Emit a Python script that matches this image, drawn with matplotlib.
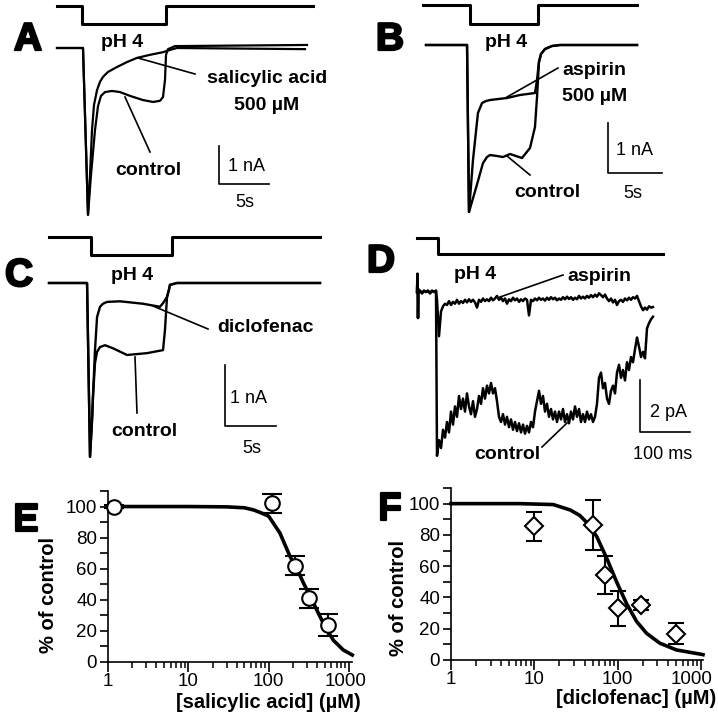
import matplotlib
matplotlib.use('Agg')
import matplotlib.pyplot as plt
import matplotlib.patheffects as pe
from matplotlib.ticker import LogLocator, NullFormatter
from matplotlib.transforms import ScaledTranslation

plt.rcParams['font.family'] = ['Liberation Sans', 'DejaVu Sans']

W, H = 718, 720

# ---- A: salicylic acid 500 uM, time (s) / current (nA) ----
a_ctrl_t = [0, 2.6, 3.1, 3.4, 3.8, 4.1, 4.4, 4.8, 5.5, 6.3, 7.3, 8.6, 9.6, 10.3, 10.6, 10.8, 10.9, 11.1, 11.8, 25.0]
a_ctrl_i = [0, 0, -4.39, -3.34, -2.16, -1.53, -1.26, -1.16, -1.13, -1.16, -1.26, -1.37, -1.42, -1.39, -1.29, -0.84, -0.18, -0.03, 0.05, 0.08]
a_drug_t = [0, 2.6, 3.1, 3.3, 3.5, 3.7, 4.0, 4.3, 4.6, 5.1, 6.0, 7.0, 8.0, 9.3, 10.6, 11.3, 12.0, 24.8]
a_drug_i = [0, 0, -4.39, -3.34, -2.16, -1.50, -1.11, -0.89, -0.76, -0.63, -0.50, -0.37, -0.26, -0.18, -0.11, -0.05, 0.0, -0.03]
a_pulse = (0, 2.5, 10.9, 25.6)

# ---- B: aspirin 500 uM ----
b_ctrl_t = [0, 3.80, 3.98, 4.63, 5.28, 5.65, 5.93, 6.57, 7.13, 7.78, 8.33, 8.89, 9.63, 10.09, 10.28, 10.46, 10.65, 11.02, 11.67, 12.41, 19.54]
b_ctrl_i = [0, 0, -3.34, -2.86, -2.36, -2.24, -2.2, -2.22, -2.24, -2.18, -2.22, -2.26, -2.06, -1.64, -1.04, -0.34, -0.18, -0.08, -0.02, 0, 0]
b_drug_t = [0, 3.80, 3.98, 4.35, 4.81, 5.19, 5.56, 5.93, 7.5, 8.7, 10.09, 10.28, 10.46, 10.65, 11.02, 11.67, 12.41, 19.54]
b_drug_i = [0, 0, -3.34, -2.3, -1.36, -1.16, -1.12, -1.10, -1.06, -1.0, -0.96, -0.70, -0.34, -0.18, -0.08, -0.02, 0, 0]
b_pulse = (-0.28, 4.07, 10.37, 19.54)

# ---- C: diclofenac ----
c_ctrl_t = [0, 3.73, 4.02, 4.22, 4.31, 4.51, 4.71, 5.0, 5.49, 6.27, 7.65, 9.61, 11.18, 11.37, 11.57, 11.76, 11.86, 12.55, 26.57]
c_ctrl_i = [0, 0, -2.85, -2.25, -1.87, -1.31, -1.13, -1.05, -1.02, -1.07, -1.18, -1.15, -1.10, -0.77, -0.23, -0.11, -0.03, 0, 0]
c_drug_t = [0, 3.73, 4.02, 4.22, 4.31, 4.51, 4.71, 5.0, 5.29, 5.69, 6.96, 9.22, 10.88, 11.18, 11.57, 11.76, 11.86, 12.55, 26.57]
c_drug_i = [0, 0, -2.85, -2.25, -1.87, -1.1, -0.56, -0.39, -0.34, -0.31, -0.30, -0.34, -0.39, -0.33, -0.23, -0.11, -0.03, 0, 0]
c_pulse = (0, 4.12, 12.06, 26.57)

# ---- D: time (ms) / current (pA) ----
d_pre_t = [0, 1, 2, 3, 4, 6, 10, 14, 18, 22, 26, 30, 34, 38]
d_pre_i = [0, 0.7, -1.0, 0.1, 0, 0.05, -0.05, 0.05, 0, 0.05, -0.05, 0.05, 0, 0.05]
d_t = [40, 44, 48, 52, 56, 60, 64, 68, 72, 76, 80, 84, 88, 92, 96, 100, 104, 108, 112, 116,
       120, 124, 128, 132, 136, 140, 144, 148, 152, 156, 160, 164, 168, 172, 176, 180, 184, 188, 192, 196,
       200, 204, 208, 212, 216, 220, 224, 228, 232, 236, 240, 244, 248, 252, 256, 260, 264, 268, 272, 276,
       280, 284, 288, 292, 296, 300, 304, 308, 312, 316, 320, 324, 328, 332, 336, 340, 344, 348, 352, 356,
       360, 364, 368, 372, 376, 380, 384, 388, 392, 396, 400, 404, 408, 412, 416, 420, 424, 428, 432, 436,
       440, 444, 448, 452, 456, 460, 464, 468, 472]
d_ctrl = [-6.3, -5.7, -6.0, -5.3, -5.6, -5.0, -5.4, -4.6, -5.1, -4.4, -4.8, -4.0, -4.5, -4.1, -4.6, -3.9, -4.4, -4.7, -4.2, -4.8,
          -4.5, -4.0, -4.3, -3.7, -4.1, -3.6, -3.9, -3.5, -3.9, -3.7, -4.2, -4.8, -5.0, -4.7, -5.1, -4.8, -5.2, -4.9, -5.3, -5.0,
          -5.35, -5.05, -5.4, -5.1, -5.45, -5.15, -5.4, -5.0, -5.2, -4.6, -4.2, -3.8, -4.3, -4.0, -4.6, -4.3, -4.8, -4.5, -4.9, -4.6,
          -5.0, -4.6, -4.9, -4.5, -5.0, -4.7, -5.05, -4.6, -4.9, -4.4, -4.8, -4.5, -5.0, -4.7, -5.0, -4.6, -4.9, -4.7, -5.0, -4.8,
          -4.3, -3.3, -3.1, -3.7, -3.5, -4.1, -4.3, -3.8, -3.6, -3.9, -3.1, -2.8, -3.3, -3.0, -3.4, -2.7, -3.0, -2.5, -2.7, -2.2,
          -1.75, -2.1, -2.5, -2.3, -2.55, -1.4, -1.2, -1.05, -0.95]
d_asp = [-0.3, -1.7, -0.75, -0.55, -0.45, -0.5, -0.35, -0.5, -0.38, -0.45, -0.3, -0.45, -0.35, -0.42, -0.3, -0.4, -0.28, -0.38, -0.3, -0.4,
         -0.6, -0.3, -0.38, -0.25, -0.35, -0.28, -0.35, -0.22, -0.32, -0.25, -0.15, -0.3, -0.22, -0.35, -0.25, -0.45, -0.28, -0.35, -0.22, -0.32,
         -0.25, -0.38, -0.28, -0.35, -0.25, -0.3, -0.9, -0.3, -0.35, -0.25, -0.32, -0.22, -0.3, -0.25, -0.33, -0.22, -0.3, -0.2, -0.28, -0.22,
         -0.32, -0.25, -0.3, -0.2, -0.28, -0.18, -0.27, -0.2, -0.3, -0.22, -0.28, -0.15, -0.25, -0.18, -0.25, -0.15, -0.22, -0.12, -0.2, -0.1,
         -0.18, -0.05, -0.12, -0.2, -0.1, -0.25, -0.35, -0.25, -0.4, -0.3, -0.5, -0.35, -0.3, -0.38, -0.25, -0.32, -0.22, -0.3, -0.2, -0.25,
         -0.15, -0.35, -0.55, -0.7, -0.6, -0.68, -0.55, -0.6, -0.58]
d_pulse = (0, 42, 492)

# ---- E: salicylic acid dose response ----
e_conc = [1.2, 110, 210, 320, 550]
e_pct = [100, 102, 62, 41, 24]
e_err = [1, 6, 6, 6, 7]
e_fit_x = [1, 10, 30, 50, 65, 80, 100, 138, 184, 230, 270, 360, 478, 638, 850, 1100]
e_fit_y = [100, 100, 99.8, 99.2, 97.8, 96, 93.8, 83, 68, 59, 51, 38, 25, 14, 7.7, 4.5]

# ---- F: diclofenac dose response ----
f_conc = [10, 50, 71, 102, 193, 505]
f_pct = [85.5, 86.5, 54.5, 33, 35, 16.7]
f_err = [9.4, 16, 12, 11, 3.3, 6.7]
f_fit_x = [1, 6.7, 16.9, 26.8, 35, 42.5, 56, 74, 97, 128, 169, 223, 322, 510, 1019, 1057]
f_fit_y = [100, 100, 99.4, 96, 92.5, 88, 79, 65, 50, 36, 24.6, 17, 10.7, 6.4, 3.6, 3.4]

fig = plt.figure(figsize=(W / 100, H / 100), dpi=100)


def trace_ax(x0, y0, sx, sy):
    # full-figure transparent axes, origin at pixel (x0, y0), sx/sy pixels per unit
    ax = fig.add_axes([0, 0, 1, 1])
    ax.set_xlim(-x0 / sx, (W - x0) / sx)
    ax.set_ylim((y0 - H) / sy, y0 / sy)
    ax.axis('off')
    ax.patch.set_visible(False)
    return ax


def pulse(ax, p, hi, lo):
    if len(p) == 4:
        ax.plot([p[0], p[1], p[1], p[2], p[2], p[3]], [hi, hi, lo, lo, hi, hi], color='k', lw=2.2)
    else:
        ax.plot([p[0], p[1], p[1], p[2]], [hi, hi, lo, lo], color='k', lw=2.2)


def scalebar(ax, t, i, dt, di):
    ax.plot([t, t, t + dt], [i, i - di, i - di], color='k', lw=1.2)


# A
ax = trace_ax(57, 48, 10, 38)
pulse(ax, a_pulse, 1.105, 0.632)
ax.plot(a_ctrl_t, a_ctrl_i, color='k', lw=1.6)
ax.plot(a_drug_t, a_drug_i, color='k', lw=1.6)
scalebar(ax, 16.2, -2.58, 5, 1)

# B
ax = trace_ax(426, 45, 10.8, 50)
pulse(ax, b_pulse, 0.8, 0.42)
ax.plot(b_ctrl_t, b_ctrl_i, color='k', lw=1.7)
ax.plot(b_drug_t, b_drug_i, color='k', lw=1.7)
scalebar(ax, 16.85, -1.56, 5, 1)

# C
ax = trace_ax(49, 283, 10.2, 61)
pulse(ax, c_pulse, 0.754, 0.459)
ax.plot(c_ctrl_t, c_ctrl_i, color='k', lw=1.7)
ax.plot(c_drug_t, c_drug_i, color='k', lw=1.7)
scalebar(ax, 17.25, -1.34, 5, 1)

# D
ax = trace_ax(417, 292, 0.5, 26)
pulse(ax, d_pulse, 2.08, 1.46)
ax.plot(d_pre_t + d_t, d_pre_i + d_ctrl, color='k', lw=1.8)
ax.plot(d_pre_t + d_t, d_pre_i + d_asp, color='k', lw=1.8)
scalebar(ax, 446, -3.38, 100, 2)


def dose_ax(left, right, bottom, top, xmax):
    ax = fig.add_axes([left / W, 1 - bottom / H, (right - left) / W, (bottom - top) / H])
    ax.set_xscale('log')
    ax.set_xlim(1, xmax)
    ax.set_ylim(0, 110)
    for s in ['top', 'right']:
        ax.spines[s].set_visible(False)
    for s in ['left', 'bottom']:
        ax.spines[s].set_linewidth(1.2)
    ax.set_yticks([0, 20, 40, 60, 80, 100])
    ax.set_yticks([10, 30, 50, 70, 90, 110], minor=True)
    ax.set_xticks([1, 10, 100, 1000])
    ax.set_xticklabels(['1', '10', '100', '1000'])
    ax.xaxis.set_minor_locator(LogLocator(base=10, subs=range(2, 10)))
    ax.xaxis.set_minor_formatter(NullFormatter())
    ax.tick_params(axis='y', which='both', direction='out', length=5.8, width=1.2, labelsize=13.5, pad=2)
    ax.tick_params(axis='x', which='major', direction='out', length=7, width=1.2, labelsize=13.5, pad=1)
    ax.tick_params(axis='x', which='minor', direction='out', length=4.5, width=1.1)
    ax.patch.set_visible(False)
    return ax


# E
ax = dose_ax(108, 352, 662, 491, 1090)
ax.plot(e_fit_x, e_fit_y, color='k', lw=2.6, zorder=2, clip_on=False)
ax.errorbar(e_conc, e_pct, yerr=e_err, fmt='o', ms=10.5, mfc='white', mec='k', mew=1.5,
            ecolor='k', elinewidth=1.5, capsize=7.5, capthick=1.5, zorder=3, clip_on=False)
lab = ax.get_xticklabels()[-1]
lab.set_transform(lab.get_transform() + ScaledTranslation(-3 / 100, 0, fig.dpi_scale_trans))

# F
ax = dose_ax(451, 703, 660, 488, 1057)
ax.plot(f_fit_x, f_fit_y, color='k', lw=2.6, zorder=2, clip_on=False)
ax.errorbar(f_conc, f_pct, yerr=f_err, fmt='D', ms=9.5, mfc='white', mec='k', mew=1.5,
            ecolor='k', elinewidth=1.5, capsize=6, capthick=1.5, zorder=3, clip_on=False)
lab = ax.get_xticklabels()[-1]
lab.set_transform(lab.get_transform() + ScaledTranslation(-9 / 100, 0, fig.dpi_scale_trans))

# overlay for letters, labels and pointer lines (pixel coordinates)
ov = fig.add_axes([0, 0, 1, 1])
ov.set_xlim(0, W)
ov.set_ylim(H, 0)
ov.axis('off')
ov.patch.set_visible(False)

bold = dict(ha='center', va='baseline', fontsize=14, fontweight='bold')
norm = dict(ha='center', va='baseline', fontsize=13)
letter = dict(ha='center', va='baseline', fontsize=28, fontweight='bold',
              path_effects=[pe.withStroke(linewidth=1.6, foreground='k')])

for s, x, y in [('A', 28, 50), ('B', 390, 50), ('C', 19, 286), ('D', 381, 272), ('E', 26, 531), ('F', 390, 520)]:
    ov.text(x, y, s, **letter)

for s, x, y in [('pH 4', 122, 47), ('salicylic acid', 267, 83), ('500 µM', 267, 110), ('control', 148, 175),
                ('pH 4', 506, 47), ('aspirin', 594, 75), ('500 µM', 595, 101), ('control', 547, 197),
                ('pH 4', 132, 280), ('diclofenac', 265, 332), ('control', 144, 436),
                ('pH 4', 475, 279), ('aspirin', 599, 281), ('control', 507, 459)]:
    ov.text(x, y, s, **bold)

for s, x, y in [('1 nA', 246, 171), ('5s', 245, 207), ('1 nA', 634, 155), ('5s', 633, 198),
                ('1 nA', 248, 403), ('5s', 252, 453), ('2 pA', 668, 417), ('100 ms', 663, 459)]:
    ov.text(x, y, s, **norm)

for (x1, y1), (x2, y2) in [((138, 58), (195, 74)), ((125, 97), (150, 152)),
                           ((507, 97), (558, 68)), ((507, 156), (530, 175)),
                           ((153, 306), (208, 329)), ((135, 357), (137, 413)),
                           ((500, 297), (563, 275)), ((542, 447), (567, 423))]:
    ov.plot([x1, x2], [y1, y2], color='k', lw=1.2)

ov.text(48, 595, '% of control', rotation=90, ha='center', va='center', fontsize=14.5, fontweight='bold')
ov.text(398, 598, '% of control', rotation=90, ha='center', va='center', fontsize=14.5, fontweight='bold')
ov.text(268, 702, '[salicylic acid] (µM)', ha='center', va='center', fontsize=14.5, fontweight='bold')
ov.text(636, 699, '[diclofenac] (µM)', ha='center', va='center', fontsize=14.5, fontweight='bold')

fig.savefig('out.png', dpi=100)
